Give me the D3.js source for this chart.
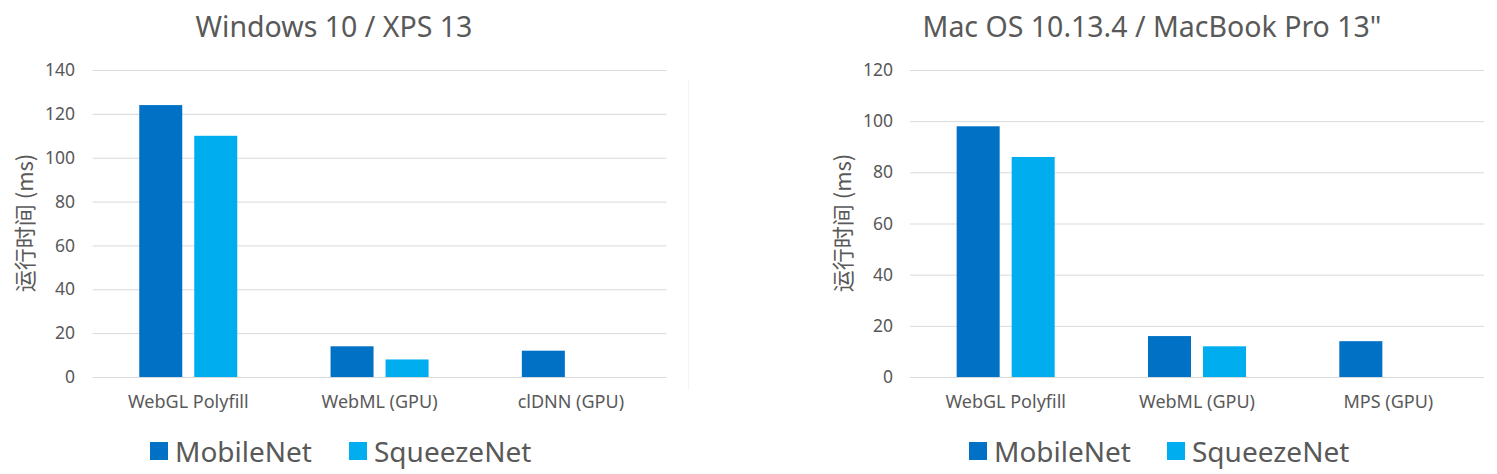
<!DOCTYPE html>
<html>
<head>
<meta charset="utf-8">
<script src="https://cdn.jsdelivr.net/npm/d3@7"></script>
<style>
  body { margin: 0; background: #fff; }
  svg { display: block; font-family: "Noto Sans", "Noto Sans CJK SC", sans-serif; }
</style>
</head>
<body>
<svg id="chart" width="1497" height="474"></svg>
<script>
//chart data
var seriesNames = ["MobileNet", "SqueezeNet"];
var seriesColors = ["#0071c5", "#00aeef"];

var winTitle = "Windows 10 / XPS 13";
var winCategories = ["WebGL Polyfill", "WebML (GPU)", "clDNN (GPU)"];
var winMobileNet = [124, 14, 12];
var winSqueezeNet = [110, 8, null];
var winTicks = [0, 20, 40, 60, 80, 100, 120, 140];

var macTitle = "Mac OS 10.13.4 / MacBook Pro 13\"";
var macCategories = ["WebGL Polyfill", "WebML (GPU)", "MPS (GPU)"];
var macMobileNet = [98, 16, 14];
var macSqueezeNet = [86, 12, null];
var macTicks = [0, 20, 40, 60, 80, 100, 120];

var yLabel = "运行时间 (ms)";

var svg = d3.select("#chart");

//draw one panel
function drawPanel(opt){
    var g = svg.append("g");

    var x = d3.scaleBand()
        .domain(opt.categories)
        .range([opt.left, opt.right]);
    var x1 = d3.scaleBand()
        .domain(seriesNames)
        .range([0, x.bandwidth()])
        .paddingInner(0.218)
        .paddingOuter(0.848);
    var y = d3.scaleLinear()
        .domain([0, d3.max(opt.ticks)])
        .range([377, 70]);

    //gridlines
    g.append("g")
        .selectAll("line")
        .data(opt.ticks)
        .join("line")
        .attr("x1", opt.left)
        .attr("x2", opt.right)
        .attr("y1", d => y(d) + 0.5)
        .attr("y2", d => y(d) + 0.5)
        .attr("stroke", "#d9d9d9")
        .attr("stroke-width", 1);

    //y axis tick labels
    var yAxis = d3.axisLeft(y).tickValues(opt.ticks).tickSize(0).tickPadding(0);
    var ya = g.append("g")
        .attr("transform", "translate(" + opt.tickX + ",0)")
        .call(yAxis);
    ya.select(".domain").remove();
    ya.selectAll("text")
        .attr("fill", "#595959")
        .style("font-size", "17.5px")
        .style("font-family", "Noto Sans");

    //x axis category labels
    var xAxis = d3.axisBottom(x).tickSize(0).tickPadding(0);
    var xa = g.append("g")
        .attr("transform", "translate(0,395)")
        .call(xAxis);
    xa.select(".domain").remove();
    xa.selectAll("text")
        .attr("fill", "#595959")
        .style("font-size", "18px")
        .style("font-family", "Noto Sans");

    //bars
    var rows = opt.categories.map((c, i) => ({
        cat: c,
        vals: [opt.mobile[i], opt.squeeze[i]]
    }));
    var groups = g.append("g")
        .selectAll("g")
        .data(rows)
        .join("g")
        .attr("transform", d => "translate(" + x(d.cat) + ",0)");
    groups.selectAll("rect")
        .data(d => d.vals.map((v, j) => ({name: seriesNames[j], value: v, color: seriesColors[j]}))
            .filter(e => e.value != null))
        .join("rect")
        .attr("x", d => x1(d.name))
        .attr("width", x1.bandwidth())
        .attr("y", d => y(d.value))
        .attr("height", d => y(0) - y(d.value))
        .attr("fill", d => d.color);

    //title
    g.append("text")
        .attr("x", opt.titleX)
        .attr("y", 37)
        .attr("text-anchor", "middle")
        .attr("fill", "#595959")
        .style("font-size", "28.5px")
        .text(opt.title);

    //y label
    g.append("text")
        .attr("transform", "translate(" + opt.labelX + ",223) rotate(-90)")
        .attr("text-anchor", "middle")
        .attr("fill", "#595959")
        .style("font-size", "22px")
        .style("font-family", "Noto Sans CJK SC")
        .text(yLabel);

    //legend
    var leg = g.append("g");
    seriesNames.forEach((s, i) => {
        var lx = opt.legendX[i];
        leg.append("rect")
            .attr("x", lx)
            .attr("y", 442)
            .attr("width", 18)
            .attr("height", 18)
            .attr("fill", seriesColors[i]);
        leg.append("text")
            .attr("x", lx + 25)
            .attr("y", 462)
            .attr("fill", "#595959")
            .style("font-size", "28px")
            .text(s);
    });

    return g;
}

drawPanel({
    title: winTitle, categories: winCategories, mobile: winMobileNet, squeeze: winSqueezeNet,
    ticks: winTicks, left: 92.6, right: 666.5, tickX: 75, titleX: 334, labelX: 33,
    legendX: [150, 349]
});

drawPanel({
    title: macTitle, categories: macCategories, mobile: macMobileNet, squeeze: macSqueezeNet,
    ticks: macTicks, left: 910, right: 1484, tickX: 893, titleX: 1152, labelX: 851,
    legendX: [969, 1167]
});

//faint chart border between panels
svg.append("line")
    .attr("x1", 688.5).attr("x2", 688.5)
    .attr("y1", 80).attr("y2", 390)
    .attr("stroke", "#f4f4f4");
</script>
</body>
</html>
